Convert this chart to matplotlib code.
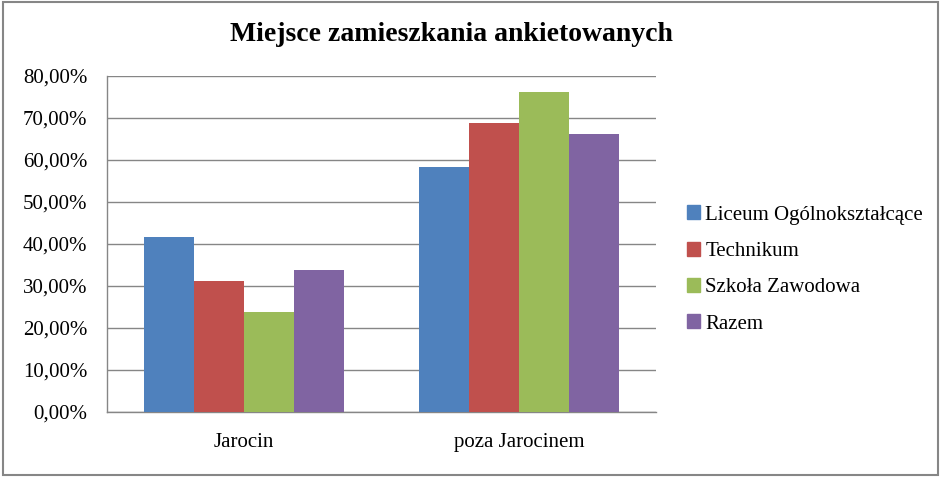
import matplotlib.pyplot as plt
import matplotlib.patches as mpatches
from matplotlib.ticker import FuncFormatter, MultipleLocator
import numpy as np

plt.rcParams['font.family'] = ['Liberation Serif', 'DejaVu Serif']

categories = ['Jarocin', 'poza Jarocinem']
series_names = ['Liceum Ogólnokształcące', 'Technikum', 'Szkoła Zawodowa', 'Razem']
liceum = [41.67, 58.33]
technikum = [31.2, 68.8]
zawodowa = [23.8, 76.2]
razem = [33.9, 66.1]
colors = ['#4F81BD', '#C0504D', '#9BBB59', '#8064A2']

fig = plt.figure(figsize=(9.42, 4.78), dpi=100)
ax = fig.add_axes([0.1136, 0.138, 0.5828, 0.703])

x = np.arange(len(categories))
width = 0.182
values = [liceum, technikum, zawodowa, razem]
for i, (vals, name, col) in enumerate(zip(values, series_names, colors)):
    ax.bar(x + (i - 1.5) * width, vals, width, color=col, label=name, zorder=3)

ax.set_xlim(-0.5, 1.5)
ax.set_ylim(0, 80)
ax.yaxis.set_major_locator(MultipleLocator(10))
ax.yaxis.set_major_formatter(FuncFormatter(lambda v, p: f'{v:.2f}%'.replace('.', ',')))
ax.set_xticks(x)
ax.set_xticklabels(categories)
ax.grid(axis='y', color='#868686', linewidth=1, zorder=0)
ax.tick_params(axis='both', length=0, labelsize=15)
ax.tick_params(axis='y', pad=14)
ax.tick_params(axis='x', pad=15)
for s in ['top', 'right']:
    ax.spines[s].set_visible(False)
for s in ['left', 'bottom']:
    ax.spines[s].set_color('#868686')
    ax.spines[s].set_linewidth(1)

fig.text(0.479, 0.928, 'Miejsce zamieszkania ankietowanych', fontsize=20,
         fontweight='bold', ha='center', va='center')

handles = [mpatches.Patch(color=c, label=n) for c, n in zip(colors, series_names)]
fig.legend(handles=handles, loc='upper left', bbox_to_anchor=(0.72, 0.588),
           frameon=False, fontsize=15, handlelength=0.65, handleheight=0.65,
           handletextpad=0.25, labelspacing=0.82, borderaxespad=0)

fig.patches.append(mpatches.Rectangle((0.003, 0.006), 0.993, 0.99, transform=fig.transFigure,
                                      fill=False, edgecolor='#868686', linewidth=1.5))

fig.savefig('out.png', dpi=100)
